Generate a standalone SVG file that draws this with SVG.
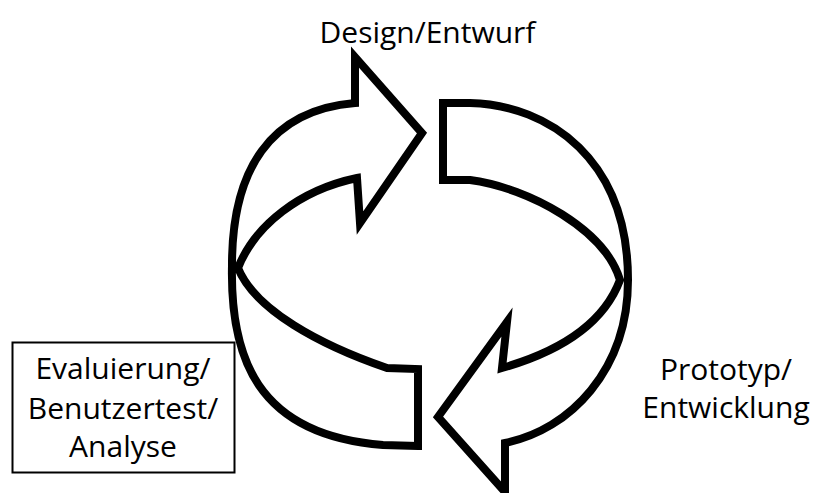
<svg xmlns="http://www.w3.org/2000/svg" width="818" height="493" viewBox="0 0 818 493">
  <style>
    .lbl { font-family: "Open Sans", "Noto Sans", "DejaVu Sans", sans-serif; font-size: 30px; fill: #000; text-anchor: middle; }
    .band { fill: #fff; stroke: #000; stroke-width: 8; stroke-linejoin: miter; stroke-miterlimit: 10; }
    .box { fill: #fff; stroke: #000; stroke-width: 2; }
  </style>
  <rect width="818" height="493" fill="#fff"/>
  <g id="connectors">
    <path id="arrow-eval-to-design" class="band" d="M 418,446 L 383,445 C 255,435 230,355 232,265 C 232,170 270,110 355,103 L 355,57 L 422,133 L 360,223 L 357,178 C 300,190 255,225 238,268 C 255,310 320,345 387,368 L 418,369 Z"/>
    <path id="arrow-design-to-eval" class="band" d="M 443,103 L 470,103 C 550,105 628,160 628,280 C 628,370 570,430 505,443 L 505,492 L 438,417 L 507,322 L 502,368 C 565,350 605,320 620,280 C 605,230 530,188 470,180 L 443,180 Z"/>
  </g>
  <g id="node-design">
    <text class="lbl" x="427.5" y="42.5">Design/Entwurf</text>
  </g>
  <g id="node-prototyp">
    <text class="lbl" x="726" y="380">Prototyp/</text>
    <text class="lbl" x="726" y="418">Entwicklung</text>
  </g>
  <g id="node-evaluierung">
    <rect class="box" x="12.5" y="342.5" width="222" height="130"/>
    <text class="lbl" x="123" y="379">Evaluierung/</text>
    <text class="lbl" x="123" y="418.5">Benutzertest/</text>
    <text class="lbl" x="123" y="457">Analyse</text>
  </g>
</svg>
